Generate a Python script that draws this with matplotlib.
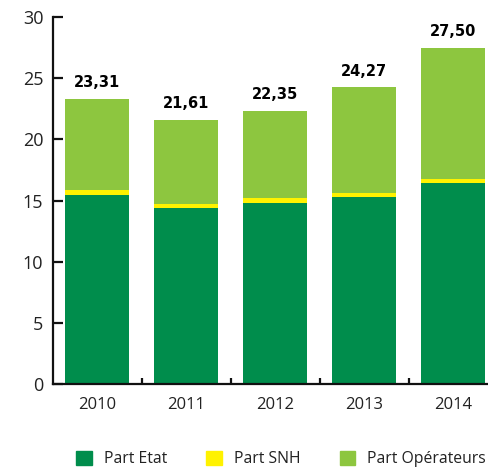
import matplotlib
matplotlib.use("Agg")
import matplotlib.pyplot as plt
from matplotlib.patches import Patch
import numpy as np

years = ["2010", "2011", "2012", "2013", "2014"]
totals = [23.31, 21.61, 22.35, 24.27, 27.50]
part_etat = [15.45, 14.40, 14.80, 15.30, 16.40]
part_snh = [0.37, 0.34, 0.40, 0.33, 0.38]
# operators share is what is left of the total
part_operateurs = [t - e - s for t, e, s in zip(totals, part_etat, part_snh)]
total_labels = ["23,31", "21,61", "22,35", "24,27", "27,50"]

c_etat = "#008d4c"
c_snh = "#fff200"
c_oper = "#8dc63f"

plt.rcParams['font.family'] = ['Open Sans', 'DejaVu Sans']

fig = plt.figure(figsize=(4.89, 4.72), dpi=100)
ax = fig.add_axes([0.1084, 0.1864, 0.891, 0.7775])

x = np.arange(len(years))
w = 0.72
ax.bar(x, part_etat, w, color=c_etat)
ax.bar(x, part_snh, w, bottom=part_etat, color=c_snh)
bottom2 = [e + s for e, s in zip(part_etat, part_snh)]
ax.bar(x, part_operateurs, w, bottom=bottom2, color=c_oper)

for xi, t, lab in zip(x, totals, total_labels):
    ax.text(xi, t + 0.7, lab, ha="center", va="bottom", fontsize=10.5,
            fontweight="bold", family=['DejaVu Sans'])

ax.set_xlim(-0.494, 4.4)
ax.set_ylim(0, 30)
ax.set_yticks(range(0, 31, 5))
ax.set_xticks(x)
ax.set_xticklabels(years)
ax.set_xticks(x[:-1] + 0.5, minor=True)

for s in ["top", "right"]:
    ax.spines[s].set_visible(False)
for s in ["left", "bottom"]:
    ax.spines[s].set_linewidth(1.6)
    ax.spines[s].set_color("#111111")

ax.tick_params(axis="y", direction="in", length=7.5, width=1.6, labelsize=13,
               pad=7, color="#111111", labelcolor="#222222")
ax.tick_params(axis="x", which="major", length=0, labelsize=12, pad=9,
               labelcolor="#222222")
ax.tick_params(axis="x", which="minor", direction="in", length=4.5, width=1.6,
               color="#111111")

handles = [Patch(color=c_etat), Patch(color=c_snh), Patch(color=c_oper)]
fig.legend(handles, ["Part Etat", "Part SNH", "Part Opérateurs"],
           loc="center", bbox_to_anchor=(0.575, 0.028), ncol=3, frameon=False,
           fontsize=11.3, handlelength=1.0, handleheight=1.0,
           handletextpad=0.75, columnspacing=2.5, labelcolor="#222222")

fig.savefig("out.png", dpi=100)
